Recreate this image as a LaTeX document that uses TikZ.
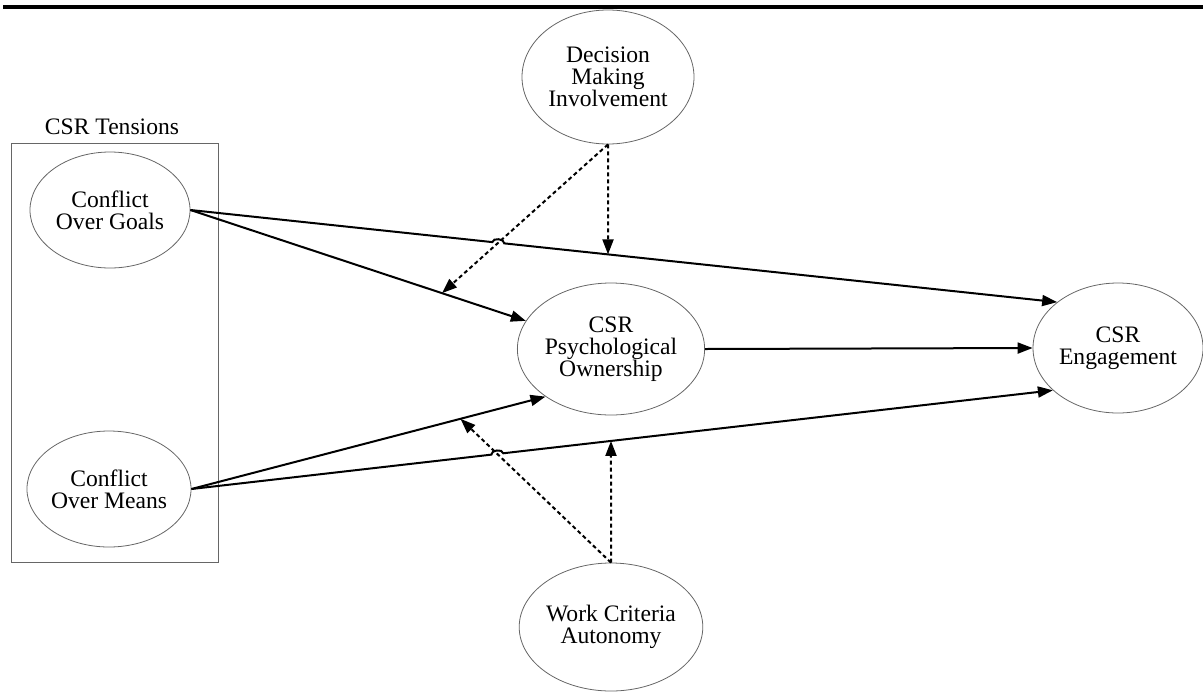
\documentclass[tikz,border=0pt]{standalone}
\usepackage{fontspec}
\setmainfont{Liberation Serif}
\usetikzlibrary{shapes.geometric,arrows.meta,calc,intersections}

\begin{document}
\begin{tikzpicture}[x=0.5pt, y=-0.5pt,
  every node/.style={font=\fontsize{11.8}{10.9}\selectfont, align=center},
  var/.style={ellipse, draw=black!60, line width=0.4pt, inner sep=0pt},
  link/.style={line width=1pt, -{Triangle[length=7.5pt,width=5.5pt]}},
  moder/.style={link, dash pattern=on 2pt off 1.5pt}]

\useasboundingbox (0,0) rectangle (1203,691);

% Rule under the caption
\draw[line width=2pt] (3,7) -- (1203,7);

% Box round the CSR tensions
\draw[black!60, line width=0.4pt] (11,143) rectangle (218,562);
\node (tens) at (112,127) {CSR Tensions};

% Place the variables
\node[var, minimum width=86pt, minimum height=67pt] (dmi) at (608,77) {Decision\\Making\\Involvement};
\node[var, minimum width=80pt, minimum height=58pt] (cog) at (110,210) {Conflict\\Over Goals};
\node[var, minimum width=80pt, minimum height=58pt] (com) at (109,489) {Conflict\\Over Means};
\node[var, minimum width=89pt, minimum height=66pt] (cpo) at (611,349) {CSR\\Psychological\\Ownership};
\node[var, minimum width=89pt, minimum height=64pt] (wca) at (611,627) {Work Criteria\\Autonomy};
\node[var, minimum width=85pt, minimum height=65pt] (eng) at (1118,348) {CSR\\Engagement};

% Direct paths
\draw[link] (cog.east) -- coordinate[pos=0.75] (m1) (cpo);
\draw[link] (com.east) -- coordinate[pos=0.76] (m3) (cpo.216);
\draw[link] (cpo.east) -- (eng.west);

% Points where the moderators meet the long paths
\path[name path=gl] (cog.east) -- (eng.143);
\path[name path=ml] (com.east) -- (eng.213);
\path[name path=dv] (dmi.south) -- ++(0,300);
\path[name path=wv] (wca.north) -- ++(0,-300);
\path[name intersections={of=gl and dv, by=m2}];
\path[name intersections={of=ml and wv, by=m4}];

% Moderating paths
\draw[moder, name path=dd] (dmi.south) -- (m1);
\draw[moder] (dmi.south) -- (m2);
\draw[moder, name path=wd] (wca.north) -- (m3);
\draw[moder] (wca.north) -- (m4);

% Long paths hop over the dotted lines
\path[name intersections={of=gl and dd, by=h1}];
\path[name intersections={of=ml and wd, by=h2}];
\draw[link] (cog.east) -- ($(h1)!3pt!(cog.east)$) to[bend left=90] ($(h1)!3pt!(eng.143)$) -- (eng.143);
\draw[link] (com.east) -- ($(h2)!3pt!(com.east)$) to[bend left=90] ($(h2)!3pt!(eng.213)$) -- (eng.213);

\end{tikzpicture}
\end{document}
